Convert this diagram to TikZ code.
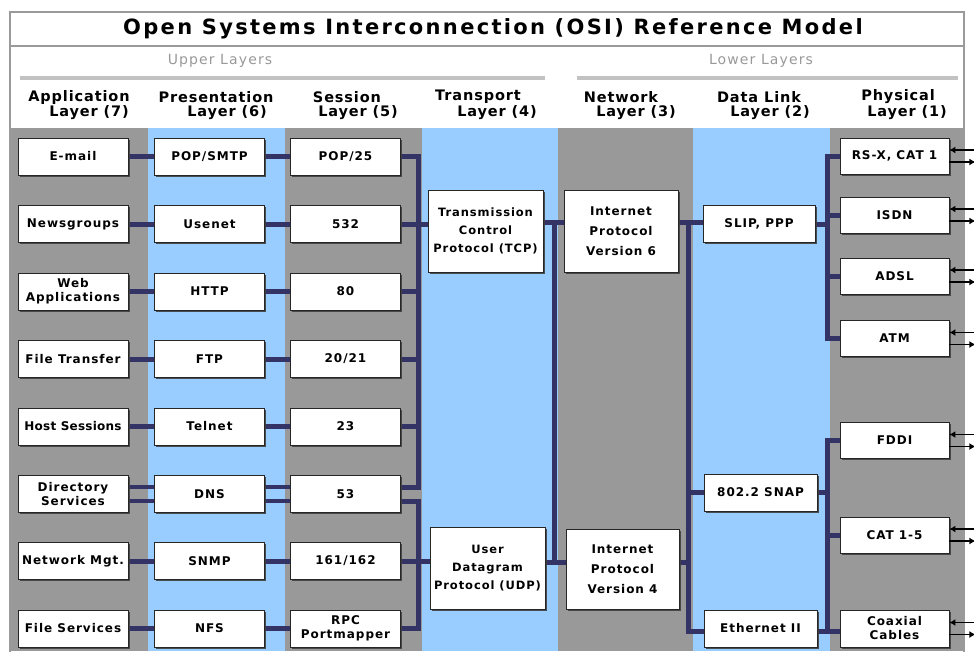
\documentclass[tikz,border=0pt]{standalone}
\usepackage{fontspec}
\setmainfont{DejaVu Sans}
\newfontfamily\titlefont{DejaVu Sans}[LetterSpace=11]
\newfontfamily\boxfont{DejaVu Sans}[LetterSpace=8]
\newfontfamily\tightfont{DejaVu Sans}[LetterSpace=2]
\newfontfamily\headfont{DejaVu Sans}[LetterSpace=6]
\newfontfamily\grpfont{DejaVu Sans}[LetterSpace=8]
\usetikzlibrary{shadows,arrows.meta}
\definecolor{colgray}{HTML}{999999}
\definecolor{colblue}{HTML}{99CCFF}
\definecolor{navy}{HTML}{333366}
\definecolor{framegray}{HTML}{9A9A9A}
\definecolor{bargray}{HTML}{C2C2C2}
\pgfdeclarelayer{bg}
\pgfdeclarelayer{lines}
\pgfsetlayers{bg,lines,main}
\tikzset{
  pbox/.style={draw=black!85, fill=white, line width=0.8pt, inner sep=1pt,
    align=center, font=\boxfont\bfseries\fontsize{12}{14}\selectfont,
    drop shadow={shadow xshift=1.5pt, shadow yshift=-1.5pt, opacity=0.9, fill=black!75}},
  sbox/.style={pbox, minimum width=110pt, minimum height=37pt},
  tbox/.style={pbox, minimum width=115pt, minimum height=82pt},
  conn/.style={draw=navy, line width=5pt, line cap=rect},
  arr/.style={draw=black, line width=1.8pt},
  headtxt/.style={font=\headfont\bfseries\fontsize{14.5}{16}\selectfont, inner sep=0pt},
  grptxt/.style={font=\grpfont\fontsize{14}{16}\selectfont, text=colgray, inner sep=0pt},
}
\begin{document}
\begin{tikzpicture}[x=1pt,y=-1pt]
\useasboundingbox (0,0) rectangle (974,651);
\begin{pgfonlayer}{bg}
\fill[white] (0,0) rectangle (974,651);
% frame
\draw[framegray, line width=2pt] (10,660) -- (10,12) -- (964,12) -- (964,660);
\draw[framegray, line width=2pt] (10,46) -- (964,46);
% columns
\fill[colgray] (11,128) rectangle (148,651);
\fill[colblue] (148,128) rectangle (285,651);
\fill[colgray] (285,128) rectangle (422,651);
\fill[colblue] (422,128) rectangle (558,651);
\fill[colgray] (558,128) rectangle (693,651);
\fill[colblue] (693,128) rectangle (830,651);
\fill[colgray] (830,128) rectangle (963,651);
% group bars
\draw[bargray, line width=4pt] (20,78) -- (545,78);
\draw[bargray, line width=4pt] (577,78) -- (958,78);
\end{pgfonlayer}

% title and headings
\node[font=\titlefont\bfseries\fontsize{21}{24}\selectfont, inner sep=0pt] (title) at (493,29) {Open Systems Interconnection (OSI) Reference Model};
\node[grptxt] (upper) at (220,61) {Upper Layers};
\node[grptxt] (lower) at (761,61) {Lower Layers};

\node[headtxt] (h7a) at (79,97) {Application};
\node[headtxt] (h7b) at (89,113) {Layer (7)};
\node[headtxt] (h6a) at (216,97) {Presentation};
\node[headtxt] (h6b) at (227,113) {Layer (6)};
\node[headtxt] (h5a) at (347,97) {Session};
\node[headtxt] (h5b) at (358,113) {Layer (5)};
\node[headtxt] (h4a) at (478,97) {Transport};
\node[headtxt] (h4b) at (497,113) {Layer (4)};
\node[headtxt] (h3a) at (621,97) {Network};
\node[headtxt] (h3b) at (636,113) {Layer (3)};
\node[headtxt] (h2a) at (759,97) {Data Link};
\node[headtxt] (h2b) at (770,113) {Layer (2)};
\node[headtxt] (h1a) at (898,97) {Physical};
\node[headtxt] (h1b) at (907,113) {Layer (1)};

% application layer
\node[sbox] (a1) at (73,156.5) {E-mail};
\node[sbox] (a2) at (73,224) {Newsgroups};
\node[sbox] (a3) at (73,291.5) {Web\\Applications};
\node[sbox] (a4) at (73,359) {File Transfer};
\node[sbox, font=\tightfont\bfseries\fontsize{12}{14}\selectfont] (a5) at (73,426.5) {Host Sessions};
\node[sbox] (a6) at (73,494) {Directory\\Services};
\node[sbox] (a7) at (73,561) {Network Mgt.};
\node[sbox] (a8) at (73,628.5) {File Services};
% presentation layer
\node[sbox] (p1) at (209.5,156.5) {POP/SMTP};
\node[sbox] (p2) at (209.5,224) {Usenet};
\node[sbox] (p3) at (209.5,291.5) {HTTP};
\node[sbox] (p4) at (209.5,359) {FTP};
\node[sbox] (p5) at (209.5,426.5) {Telnet};
\node[sbox] (p6) at (209.5,494) {DNS};
\node[sbox] (p7) at (209.5,561) {SNMP};
\node[sbox] (p8) at (209.5,628.5) {NFS};
% session layer
\node[sbox] (s1) at (345.5,156.5) {POP/25};
\node[sbox] (s2) at (345.5,224) {532};
\node[sbox] (s3) at (345.5,291.5) {80};
\node[sbox] (s4) at (345.5,359) {20/21};
\node[sbox] (s5) at (345.5,426.5) {23};
\node[sbox] (s6) at (345.5,494) {53};
\node[sbox] (s7) at (345.5,561) {161/162};
\node[sbox] (s8) at (345.5,628.5) {RPC\\Portmapper};
% transport layer
\node[tbox, font=\boxfont\bfseries\fontsize{11.5}{14}\selectfont] (tcp) at (485.5,231) {Transmission\\[4pt]Control\\[4pt]Protocol (TCP)};
\node[tbox, font=\boxfont\bfseries\fontsize{11.5}{14}\selectfont] (udp) at (487.5,568.5) {User\\[4pt]Datagram\\[4pt]Protocol (UDP)};
% network layer
\node[tbox, minimum width=114pt] (ip6) at (621,231) {Internet\\[6pt]Protocol\\[6pt]Version 6};
\node[tbox, minimum width=113pt, minimum height=80pt] (ip4) at (622.5,569) {Internet\\[6pt]Protocol\\[6pt]Version 4};
% data link layer
\node[sbox, minimum width=112pt] (slip) at (759,224) {SLIP, PPP};
\node[sbox, minimum width=113pt] (snap) at (760.5,492.5) {802.2 SNAP};
\node[sbox, minimum width=113pt] (eth) at (760.5,628.5) {Ethernet II};
% physical layer
\node[sbox, minimum width=109pt, minimum height=36pt] (ph1) at (894.5,156) {RS-X, CAT 1};
\node[sbox, minimum width=109pt, minimum height=36pt] (ph2) at (894.5,215) {ISDN};
\node[sbox, minimum width=109pt, minimum height=36pt] (ph3) at (894.5,276) {ADSL};
\node[sbox, minimum width=109pt, minimum height=36pt] (ph4) at (894.5,338.5) {ATM};
\node[sbox, minimum width=109pt, minimum height=36pt] (ph5) at (894.5,440.5) {FDDI};
\node[sbox, minimum width=109pt, minimum height=36pt] (ph6) at (894.5,535) {CAT 1-5};
\node[sbox, minimum width=109pt, minimum height=37pt] (ph7) at (894.5,628.5) {Coaxial\\Cables};

% reference coordinates for buses
\coordinate (bx) at (418,0);
\coordinate (tx) at (554,0);
\coordinate (dx) at (688,0);
\coordinate (px) at (827,0);
\coordinate (ty) at (0,222);
\coordinate (uy) at (0,562);
\coordinate (ey) at (0,631);

\begin{pgfonlayer}{lines}
% application - presentation - session
\foreach \i in {1,2,3,4,5,7,8}{
  \draw[conn] (a\i.east) -- (p\i.west);
  \draw[conn] (p\i.east) -- (s\i.west);
}
\draw[conn, line width=4pt] ([yshift=7pt]a6.east) -- ([yshift=7pt]p6.west);
\draw[conn, line width=4pt] ([yshift=-7pt]a6.east) -- ([yshift=-7pt]p6.west);
\draw[conn, line width=4pt] ([yshift=7pt]p6.east) -- ([yshift=7pt]s6.west);
\draw[conn, line width=4pt] ([yshift=-7pt]p6.east) -- ([yshift=-7pt]s6.west);
% session - transport buses
\draw[conn] (s1.east) -| ([yshift=7pt]s6.east -| bx) -- ([yshift=7pt]s6.east);
\foreach \i in {2,3,4,5}{
  \draw[conn] (s\i.east) -- (s\i.east -| bx);
}
\draw[conn] (s2.east -| bx) -- (tcp.west |- s2.east);
\draw[conn] ([yshift=-7pt]s6.east) -| (s8.east -| bx) -- (s8.east);
\draw[conn] (s7.east) -- (udp.west |- s7.east);
% transport - network
\draw[conn] (tcp.east |- ty) -- (ip6.west |- ty);
\draw[conn] (udp.east |- uy) -- (ip4.west |- uy);
\draw[conn] (tx |- ty) -- (tx |- uy);
% network - data link
\draw[conn] (ip6.east |- ty) -- (slip.west |- ty);
\draw[conn] (dx |- ty) -- (dx |- ey) -- (eth.west |- ey);
\draw[conn] (ip4.east |- uy) -- (dx |- uy);
\draw[conn] (dx |- snap.west) -- (snap.west);
% data link - physical
\draw[conn] (ph1.west) -| (px |- ph4.west) -- (ph4.west);
\draw[conn] (ph2.west) -- (px |- ph2.west);
\draw[conn] (ph3.west) -- (px |- ph3.west);
\draw[conn] (slip.east) -- (px |- slip.east);
\draw[conn] (ph5.west) -| (px |- ey) -- (ph7.west |- ey);
\draw[conn] (eth.east |- ey) -- (px |- ey);
\draw[conn] (snap.east) -- (px |- snap.east);
\draw[conn] (ph6.west) -- (px |- ph6.west);
\end{pgfonlayer}

% physical medium arrows
\foreach \i in {1,...,7}{
  \draw[arr, {Latex[length=6pt,width=7pt]}-] ([yshift=6pt]ph\i.east) -- ++(26,0);
  \draw[arr, -{Latex[length=6pt,width=7pt]}] ([yshift=-6pt]ph\i.east) -- ++(26,0);
}
\end{tikzpicture}
\end{document}
